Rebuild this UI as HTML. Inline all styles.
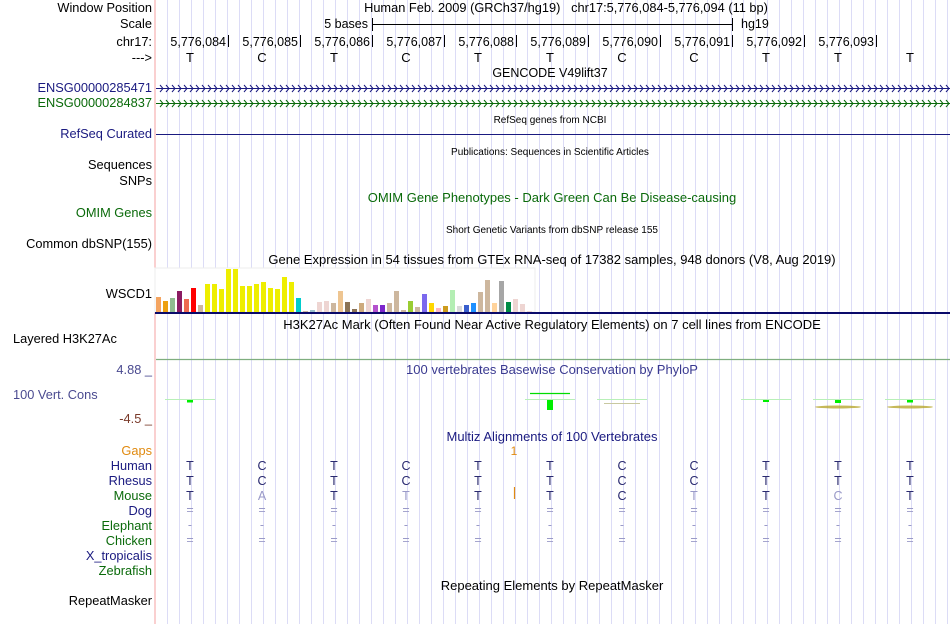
<!DOCTYPE html>
<html><head><meta charset="utf-8"><style>
html,body{margin:0;padding:0;background:#fff;}
svg{display:block;font-family:"Liberation Sans",sans-serif;}
.pre{white-space:pre;}
</style></head><body>
<svg id="c" width="950" height="624" xmlns="http://www.w3.org/2000/svg">
<g id="grid"></g>
<line x1="155" y1="0" x2="155" y2="624" stroke="#f4a0a0" stroke-width="1"/>
<g id="labels" font-size="12.8" text-anchor="end"></g>
<g id="main" font-size="12.5"></g>
</svg>
<script>
const NS="http://www.w3.org/2000/svg";
const svg=document.getElementById('c');
const grid=document.getElementById('grid');
const labelsG=document.getElementById('labels');
const mainG=document.getElementById('main');

// data
const bases=["T","C","T","C","T","T","C","C","T","T","T"];
const positions=["5,776,084","5,776,085","5,776,086","5,776,087","5,776,088","5,776,089","5,776,090","5,776,091","5,776,092","5,776,093"];
const gtexValues=[15,11,14,21,13,24,7,28,28,23,43,43,26,26,28,30,24,23,35,30,14,1,2,10,11,9,21,10,3,9,13,7,7,9,21,2,11,5,18,9,4,6,22,6,7,9,20,32,9,31,10,13,8,1];
const gtexColors=["#f4a460","#eda010","#8fbc8f","#8b1c62","#ee6a50","#ff0000","#cdb79e","#eeee00","#eeee00","#eeee00","#eeee00","#eeee00","#eeee00","#eeee00","#eeee00","#eeee00","#eeee00","#eeee00","#eeee00","#eeee00","#00cdcd","#cdb79e","#9ac0cd","#eed5d2","#eed5d2","#cdb79e","#eec591","#8b7355","#8b7355","#cdaa7d","#eed5d2","#b452cd","#7d26cd","#cdb79e","#cdb79e","#cdb79e","#9acd32","#cdb79e","#7b68ee","#ffd700","#ffb6c1","#cd9b1d","#b4eeb4","#d9d9d9","#3a5fcd","#1e90ff","#cdb79e","#cdb79e","#ffd39b","#a6a6a6","#008b45","#eed5d2","#eed5d2","#eed5d2"];
const mouse=["T","A","T","T","T","T","C","T","T","C","T"];
const mouseFaint=[false,true,false,true,false,false,false,true,false,true,false];
const phyloVals=[0.5,null,null,null,null,2.0,0,null,0.2,0.6,0.5];

function el(tag,attrs,parent,text){const e=document.createElementNS(NS,tag);for(const k in attrs)e.setAttribute(k,attrs[k]);if(text!==undefined)e.textContent=text;(parent||svg).appendChild(e);return e;}

for(let x=167;x<950;x+=12){const l=el('line',{x1:x+.5,y1:0,x2:x+.5,y2:624,stroke:'#dcdcf6','stroke-width':1},grid);

}

const baseX=i=>190+72*i;

const leftLabels=[
["Window Position",12,"#000","end"],["Scale",28,"#000","end"],["chr17:",46,"#000","end"],["--->",62,"#000","end"],
["ENSG00000285471",92,"#1a1a80","end"],["ENSG00000284837",107,"#0a6a0a","end"],["RefSeq Curated",138,"#1a1a80","end"],
["Sequences",169,"#000","end"],["SNPs",185,"#000","end"],["OMIM Genes",217,"#0a6a0a","end"],["Common dbSNP(155)",248,"#000","end"],
["WSCD1",298,"#000","end"],["Layered H3K27Ac",343,"#000","start"],["4.88 _",374,"#4a4a90","end"],["100 Vert. Cons",399,"#4a4a90","start"],
["-4.5 _",423,"#7a3a2a","end"],["Gaps",455,"#e08a10","end"],["Human",470,"#1a1a80","end"],["Rhesus",485,"#1a1a80","end"],
["Mouse",500,"#0a6a0a","end"],["Dog",515,"#1a1a80","end"],["Elephant",530,"#0a6a0a","end"],["Chicken",545,"#0a6a0a","end"],
["X_tropicalis",560,"#1a1a80","end"],["Zebrafish",575,"#0a6a0a","end"],["RepeatMasker",605,"#000","end"]];
leftLabels.forEach(([t,y,c,a])=>{const e=el('text',{x:a==="end"?152:13,y:y,fill:c,'text-anchor':a},labelsG,t);

});

const titles=[["Human Feb. 2009 (GRCh37/hg19)   chr17:5,776,084-5,776,094 (11 bp)",566,12,"#000",12.8],
["GENCODE V49lift37",550,77,"#000",12.5],["RefSeq genes from NCBI",550,123,"#000",10],
["Publications: Sequences in Scientific Articles",550,155,"#000",10],
["OMIM Gene Phenotypes - Dark Green Can Be Disease-causing",552,202,"#0a6a0a",13],
["Short Genetic Variants from dbSNP release 155",552,233,"#000",10],
["Gene Expression in 54 tissues from GTEx RNA-seq of 17382 samples, 948 donors (V8, Aug 2019)",552,264,"#000",13],
["H3K27Ac Mark (Often Found Near Active Regulatory Elements) on 7 cell lines from ENCODE",552,329,"#000",13],
["100 vertebrates Basewise Conservation by PhyloP",552,374,"#3a3a90",13],
["Multiz Alignments of 100 Vertebrates",552,441,"#1a1a80",13],
["Repeating Elements by RepeatMasker",552,590,"#000",13]];
titles.forEach(([t,x,y,c,s])=>{const e=el('text',{x:x,y:y,fill:c,'text-anchor':'middle','font-size':s,'class':'pre'},mainG,t);

});

el('text',{x:368,y:28,'text-anchor':'end'},mainG,"5 bases");
el('line',{x1:372.5,y1:24.5,x2:732.5,y2:24.5,stroke:'#000'},mainG);
el('line',{x1:372.5,y1:18,x2:372.5,y2:31,stroke:'#000'},mainG);
el('line',{x1:732.5,y1:18,x2:732.5,y2:31,stroke:'#000'},mainG);
el('text',{x:741,y:28},mainG,"hg19");

positions.forEach((p,i)=>{const x=228+72*i;const t=el('text',{x:x-2,y:46,'text-anchor':'end'},mainG,p);


el('line',{x1:x+.5,y1:35,x2:x+.5,y2:47,stroke:'#000'},mainG);});
bases.forEach((b,i)=>{const t=el('text',{x:baseX(i),y:62,'text-anchor':'middle','font-size':13},mainG,b);

});

function geneLine(y,c,name){const g=el('g',{},mainG);
el('line',{x1:156,y1:y+.5,x2:950,y2:y+.5,stroke:c},g);
let d="";for(let x=160;x<950;x+=12){d+=`M${x} ${y-3}L${x+3} ${y+.5}L${x} ${y+4}M${x+6} ${y-3}L${x+9} ${y+.5}L${x+6} ${y+4}`;}
el('path',{d:d,stroke:c,fill:'none','stroke-width':1},g);}
geneLine(88,"#1a1a80","gene-ENSG00000285471");
geneLine(103,"#0a6a0a","gene-ENSG00000284837");
const rs=el('line',{x1:156,y1:134.5,x2:950,y2:134.5,stroke:'#1a1a80'},mainG);



const gx=i=>156+7*i, gBase=312, gy=v=>gBase-v;
el('rect',{x:155,y:268,width:380,height:44,fill:'#fff',stroke:'#eee'},mainG);
gtexValues.forEach((v,i)=>{const r=el('rect',{x:gx(i),y:gy(v),width:5,height:v,fill:gtexColors[i]},mainG);

});
el('line',{x1:155,y1:313,x2:950,y2:313,stroke:'#0a0a6a','stroke-width':2},mainG);
el('line',{x1:156,y1:359.5,x2:950,y2:359.5,stroke:'#7fae7f','stroke-width':1.2},mainG);

const pZero=400, pScale=5;
phyloVals.forEach((v,i)=>{if(v===null)return;const x=baseX(i);
el('line',{x1:x-25,y1:pZero-.5,x2:x+25,y2:pZero-.5,stroke:'#b8f0b8'},mainG);
if(i===6){el('line',{x1:x-18,y1:403.5,x2:x+18,y2:403.5,stroke:'#c8c8a0'},mainG);return;}
if(i>=9){el('ellipse',{cx:x,cy:407,rx:23,ry:1.5,fill:'#b8a830',opacity:.8},mainG);}
const h=Math.max(2,v*pScale);const r=el('rect',{x:x-3,y:pZero,width:6,height:h,fill:'#00ee00'},mainG);

});
el('line',{x1:baseX(5)-20,y1:393.5,x2:baseX(5)+20,y2:393.5,stroke:'#00dd00','stroke-width':1.2},mainG);

el('text',{x:514,y:455,fill:'#e08a10','text-anchor':'middle','font-size':12},mainG,"1");
function row(arr,y,faint,name){arr.forEach((b,i)=>{const t=el('text',{x:baseX(i),y:y,'text-anchor':'middle','font-size':12.5,fill:faint&&faint[i]?'#9a9ac8':'#2a2a70'},mainG,b);

});}
row(bases,470,null,'human-base');
row(bases,485,null,'rhesus-base');
row(mouse,500,mouseFaint,'mouse-base');
el('line',{x1:514.5,y1:487,x2:514.5,y2:499,stroke:'#e08a10','stroke-width':1.2},mainG);
row(bases.map(()=>"="),514,bases.map(()=>true),'dog-base');
row(bases.map(()=>"-"),529,bases.map(()=>true),'elephant-base');
row(bases.map(()=>"="),544,bases.map(()=>true),'chicken-base');
</script>
</body></html>
